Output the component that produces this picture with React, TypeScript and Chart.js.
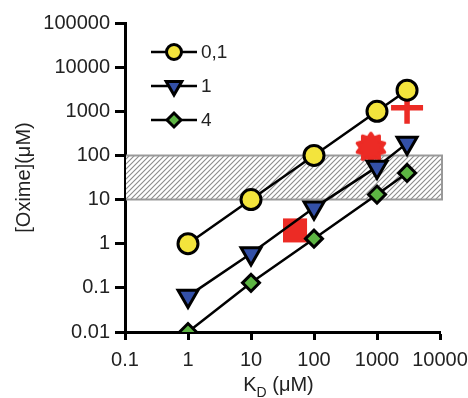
import React, { useEffect, useRef } from 'react';
import { Chart, registerables } from 'chart.js';
import { drawPoint } from 'chart.js/helpers';

Chart.register(...registerables);

// ---- data ----
const kdValues = [1, 10, 100, 1000, 3000];
const series01 = [1, 10, 100, 1000, 3000];
const series1 = [0.065, 0.6, 6.5, 55, 190];
const series4 = [0.01, 0.13, 1.3, 13, 40];
const seriesLabels = ['0,1', '1', '4'];

const redX = [50, 800, 3000];
const redY = [2, 150, 1200];

const bandLow = 10;
const bandHigh = 100;

const yTickValues = [0.01, 0.1, 1, 10, 100, 1000, 10000, 100000];
const yTickLabels = ['0.01', '0.1', '1', '10', '100', '1000', '10000', '100000'];
const xTickValues = [0.1, 1, 10, 100, 1000, 10000];
const xTickLabels = ['0.1', '1', '10', '100', '1000', '10000'];

const yTitle = '[Oxime](μM)';
const xTitleMain = 'K';
const xTitleSub = 'D';
const xTitleRest = ' (μM)';

const FONT = "'Liberation Sans', Arial, sans-serif";
const TEXT = '#222';
const YELLOW = '#f3e43c';
const BLUE = '#3350a8';
const GREEN = '#5db543';
const RED = '#ec2b25';

function makeStar(): HTMLCanvasElement {
  const c = document.createElement('canvas');
  c.width = 34;
  c.height = 34;
  const g = c.getContext('2d')!;
  g.fillStyle = RED;
  g.strokeStyle = RED;
  g.lineJoin = 'round';
  g.lineWidth = 3;
  g.beginPath();
  const n = 10;
  for (let i = 0; i < n * 2; i++) {
    const r = i % 2 === 0 ? 14.5 : 10.5;
    const a = (Math.PI * i) / n - Math.PI / 2;
    const px = 17 + Math.cos(a) * r;
    const py = 17 + Math.sin(a) * r;
    if (i === 0) g.moveTo(px, py);
    else g.lineTo(px, py);
  }
  g.closePath();
  g.fill();
  g.stroke();
  return c;
}

function makeHatch(ctx: CanvasRenderingContext2D): CanvasPattern | string {
  const c = document.createElement('canvas');
  const s = 5;
  c.width = s;
  c.height = s;
  const g = c.getContext('2d')!;
  g.fillStyle = '#ffffff';
  g.fillRect(0, 0, s, s);
  g.strokeStyle = '#8c8c8c';
  g.lineWidth = 1.1;
  g.beginPath();
  g.moveTo(-1, s + 1);
  g.lineTo(s + 1, -1);
  g.moveTo(-1, 1);
  g.lineTo(1, -1);
  g.moveTo(s - 1, s + 1);
  g.lineTo(s + 1, s - 1);
  g.stroke();
  return ctx.createPattern(c, 'repeat') || '#ddd';
}

const bandPlugin = {
  id: 'band',
  beforeDatasetsDraw(chart: any) {
    const { ctx, scales } = chart;
    const xs = scales.x;
    const ys = scales.y;
    const x0 = xs.getPixelForValue(xTickValues[0]) + 1;
    const x1 = xs.right + 2;
    const yTop = ys.getPixelForValue(bandHigh);
    const yBot = ys.getPixelForValue(bandLow);
    ctx.save();
    ctx.fillStyle = makeHatch(ctx);
    ctx.fillRect(x0, yTop, x1 - x0, yBot - yTop);
    ctx.strokeStyle = '#999';
    ctx.lineWidth = 2;
    ctx.beginPath();
    ctx.moveTo(x0, yTop);
    ctx.lineTo(x1, yTop);
    ctx.lineTo(x1, yBot);
    ctx.lineTo(x0, yBot);
    ctx.stroke();
    ctx.restore();
  },
};

const legendPlugin = {
  id: 'customLegend',
  afterDatasetsDraw(chart: any) {
    const { ctx } = chart;
    const rows = [52, 86, 120];
    const sizes = [7.5, 9, 7];
    ctx.save();
    for (let i = 0; i < 3; i++) {
      const ds = chart.data.datasets[i];
      const y = rows[i];
      ctx.strokeStyle = '#000';
      ctx.lineWidth = 2.5;
      ctx.beginPath();
      ctx.moveTo(151, y);
      ctx.lineTo(197, y);
      ctx.stroke();
      ctx.fillStyle = ds.pointBackgroundColor;
      ctx.strokeStyle = '#000';
      ctx.lineWidth = 3;
      drawPoint(ctx, {
        pointStyle: ds.pointStyle,
        rotation: ds.pointRotation || 0,
        radius: sizes[i],
        borderWidth: 3,
      } as any, 174, y);
      ctx.fillStyle = TEXT;
      ctx.font = `19px ${FONT}`;
      ctx.textAlign = 'left';
      ctx.textBaseline = 'middle';
      ctx.fillText(ds.label, 201, y + 1);
    }
    ctx.restore();
  },
};

const titlesPlugin = {
  id: 'axisTitles',
  afterDraw(chart: any) {
    const { ctx, chartArea } = chart;
    ctx.save();
    ctx.fillStyle = TEXT;
    // y title
    ctx.font = `20px ${FONT}`;
    ctx.translate(24, (chartArea.top + chartArea.bottom) / 2);
    ctx.rotate(-Math.PI / 2);
    ctx.textAlign = 'center';
    ctx.textBaseline = 'middle';
    ctx.fillText(yTitle, 0, 0);
    ctx.restore();

    ctx.save();
    ctx.fillStyle = TEXT;
    ctx.textAlign = 'left';
    ctx.textBaseline = 'alphabetic';
    const big = `20px ${FONT}`;
    const small = `14px ${FONT}`;
    ctx.font = big;
    const wK = ctx.measureText(xTitleMain).width;
    const wR = ctx.measureText(xTitleRest).width;
    ctx.font = small;
    const wD = ctx.measureText(xTitleSub).width;
    const total = wK + wD + wR;
    const cx = (chartArea.left + chartArea.right) / 2 - 4;
    let x = cx - total / 2;
    const base = 391;
    ctx.font = big;
    ctx.fillText(xTitleMain, x, base);
    x += wK;
    ctx.font = small;
    ctx.fillText(xTitleSub, x, base + 6);
    x += wD;
    ctx.font = big;
    ctx.fillText(xTitleRest, x, base);
    ctx.restore();
  },
};

export default function App() {
  const ref = useRef<HTMLCanvasElement>(null);

  useEffect(() => {
    const canvas = ref.current;
    if (!canvas) return;
    const star = makeStar();
    const toPts = (ys: number[]) => kdValues.map((x, i) => ({ x, y: ys[i] }));

    const chart = new Chart(canvas, {
      type: 'scatter',
      data: {
        datasets: [
          {
            label: seriesLabels[0],
            data: toPts(series01),
            showLine: true,
            borderColor: '#000',
            borderWidth: 2.5,
            pointStyle: 'circle',
            pointRadius: 10,
            pointHoverRadius: 10,
            pointBackgroundColor: YELLOW,
            pointBorderColor: '#000',
            pointBorderWidth: 3,
          },
          {
            label: seriesLabels[1],
            data: toPts(series1),
            showLine: true,
            borderColor: '#000',
            borderWidth: 2.5,
            pointStyle: 'triangle',
            pointRotation: 180,
            pointRadius: 11.5,
            pointHoverRadius: 11.5,
            pointBackgroundColor: BLUE,
            pointBorderColor: '#000',
            pointBorderWidth: 3,
          },
          {
            label: seriesLabels[2],
            data: toPts(series4),
            showLine: true,
            borderColor: '#000',
            borderWidth: 2.5,
            pointStyle: 'rectRot',
            pointRadius: 8.5,
            pointHoverRadius: 8.5,
            pointBackgroundColor: GREEN,
            pointBorderColor: '#000',
            pointBorderWidth: 3,
          },
          {
            label: 'extra',
            data: redX.map((x, i) => ({ x, y: redY[i] })),
            showLine: false,
            pointStyle: ['rect', star, 'cross'] as any,
            pointRadius: [17, 15, 16],
            pointHoverRadius: [17, 15, 16],
            pointBackgroundColor: RED,
            pointBorderColor: RED,
            pointBorderWidth: [0, 0, 5.5],
          },
        ],
      },
      options: {
        responsive: false,
        animation: false,
        events: [],
        layout: { padding: { left: 0, top: 23, right: 28, bottom: 0 } },
        plugins: {
          legend: { display: false },
          tooltip: { enabled: false },
          title: { display: false },
        },
        scales: {
          x: {
            type: 'logarithmic',
            min: 0.1,
            max: 10000,
            afterBuildTicks: (s: any) => {
              s.ticks = xTickValues.map((v) => ({ value: v }));
            },
            afterFit: (s: any) => {
              s.height = 66;
              s.paddingLeft = 0;
              s.paddingRight = 0;
            },
            ticks: {
              autoSkip: false,
              maxRotation: 0,
              padding: 8,
              color: TEXT,
              font: { family: FONT, size: 20 },
              callback: (_v: any, i: number) => xTickLabels[i],
            },
            grid: {
              drawOnChartArea: false,
              drawTicks: true,
              tickLength: 8,
              tickWidth: 3,
              tickColor: '#000',
            },
            border: { display: true, color: '#000', width: 3 },
          },
          y: {
            type: 'logarithmic',
            min: 0.01,
            max: 100000,
            afterBuildTicks: (s: any) => {
              s.ticks = yTickValues.map((v) => ({ value: v }));
            },
            afterFit: (s: any) => {
              s.width = 125;
              s.paddingTop = 0;
              s.paddingBottom = 0;
            },
            ticks: {
              autoSkip: false,
              padding: 5,
              color: TEXT,
              font: { family: FONT, size: 20 },
              callback: (_v: any, i: number) => yTickLabels[i],
            },
            grid: {
              drawOnChartArea: false,
              drawTicks: true,
              tickLength: 10,
              tickWidth: 3,
              tickColor: '#000',
            },
            border: { display: true, color: '#000', width: 3 },
          },
        },
      } as any,
      plugins: [bandPlugin, legendPlugin, titlesPlugin],
    });
    return () => chart.destroy();
  }, []);

  return (
    <div style={{ position: 'fixed', left: 0, top: 0, width: 468, height: 398, background: '#fff' }}>
      <canvas ref={ref} width={468} height={398} style={{ width: 468, height: 398, display: 'block' }} />
    </div>
  );
}
